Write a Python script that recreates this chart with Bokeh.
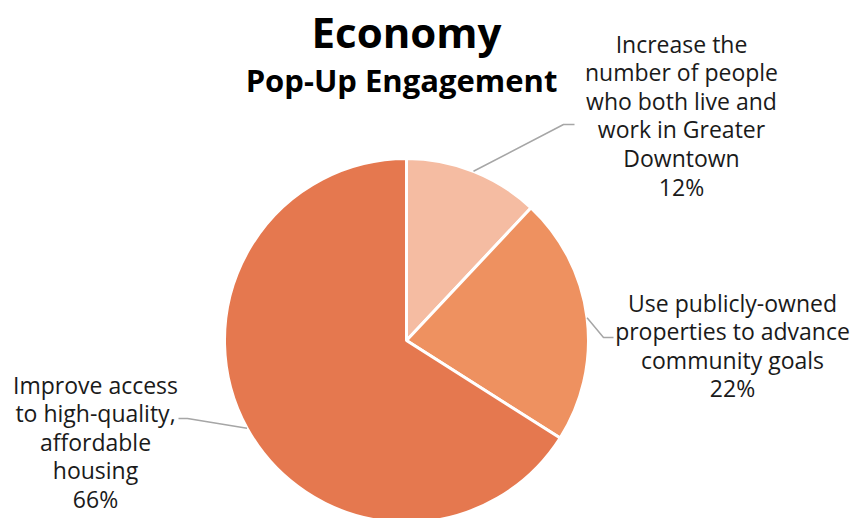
import math
from bokeh.plotting import figure
from bokeh.models import Range1d, ColumnDataSource
from bokeh.core.properties import value
from bokeh.embed import file_html
from bokeh.resources import INLINE

# ---- data ----
categories = [
    "Increase the\nnumber of people\nwho both live and\nwork in Greater\nDowntown",
    "Use publicly-owned\nproperties to advance\ncommunity goals",
    "Improve access\nto high-quality,\naffordable\nhousing",
]
shares = [12, 22, 66]
colors = ["#F5BCA2", "#EE9160", "#E5784F"]
title_main = "Economy"
title_sub = "Pop-Up Engagement"

W, H = 854, 518
FONT = "Open Sans"

def X(ix):
    return ix

def Y(iy):
    return H - iy

p = figure(width=W, height=H, output_backend="svg", toolbar_location=None,
           x_range=Range1d(0, W), y_range=Range1d(0, H), min_border=0)
p.axis.visible = False
p.grid.visible = False
p.outline_line_color = None
p.background_fill_color = "white"
p.border_fill_color = "white"

cx, cy, R = X(406), Y(340), 182

total = float(sum(shares))
starts, ends, mids = [], [], []
acc = 0.0
for s in shares:
    a0 = math.pi / 2 - 2 * math.pi * acc / total
    acc += s
    a1 = math.pi / 2 - 2 * math.pi * acc / total
    starts.append(a0)
    ends.append(a1)
    mids.append((a0 + a1) / 2)

src = ColumnDataSource(dict(x=[cx] * len(shares), y=[cy] * len(shares),
                            start=starts, end=ends, color=colors))
p.wedge(x="x", y="y", radius=R, radius_units="screen", start_angle="start",
        end_angle="end", direction="clock", fill_color="color",
        line_color="white", line_width=3, source=src)

# leader lines: (bend point, end point) in image px — layout
leaders = [((563, 124), (574, 124)), ((603, 337), (613, 337)), ((187, 418), (178, 418))]
for m, (b, e) in zip(mids, leaders):
    sx = cx + R * math.cos(m)
    sy = cy + R * math.sin(m)
    p.line([sx, X(b[0]), X(e[0])], [sy, Y(b[1]), Y(e[1])],
           line_color="#A6A6A6", line_width=1.5)

# labels: (center x, first baseline y, line spacing) in image px — layout
label_pos = [(681, 43, 28.6), (732, 302, 28.6), (95, 384, 28.6)]
fs = "23px"
for cat, s, (lx, ly, dl) in zip(categories, shares, label_pos):
    lines = cat.split("\n") + [f"{s}%"]
    xs = [X(lx)] * len(lines)
    ys = [Y(ly + i * dl) for i in range(len(lines))]
    p.text(x=xs, y=ys, text=lines, text_align="center", text_baseline="alphabetic",
           text_font=value(FONT), text_font_size=fs, text_color="#1A1A1A")

p.text(x=[X(406)], y=[Y(31)], text=[title_main], text_align="center",
       text_baseline="alphabetic", text_font=value(FONT), text_font_style="bold",
       text_font_size="42px", text_color="black")
p.text(x=[X(401)], y=[Y(79)], text=[title_sub], text_align="center",
       text_baseline="alphabetic", text_font=value(FONT), text_font_style="bold",
       text_font_size="31px", text_color="black")

open("out.html", "w").write(file_html(p, INLINE))
